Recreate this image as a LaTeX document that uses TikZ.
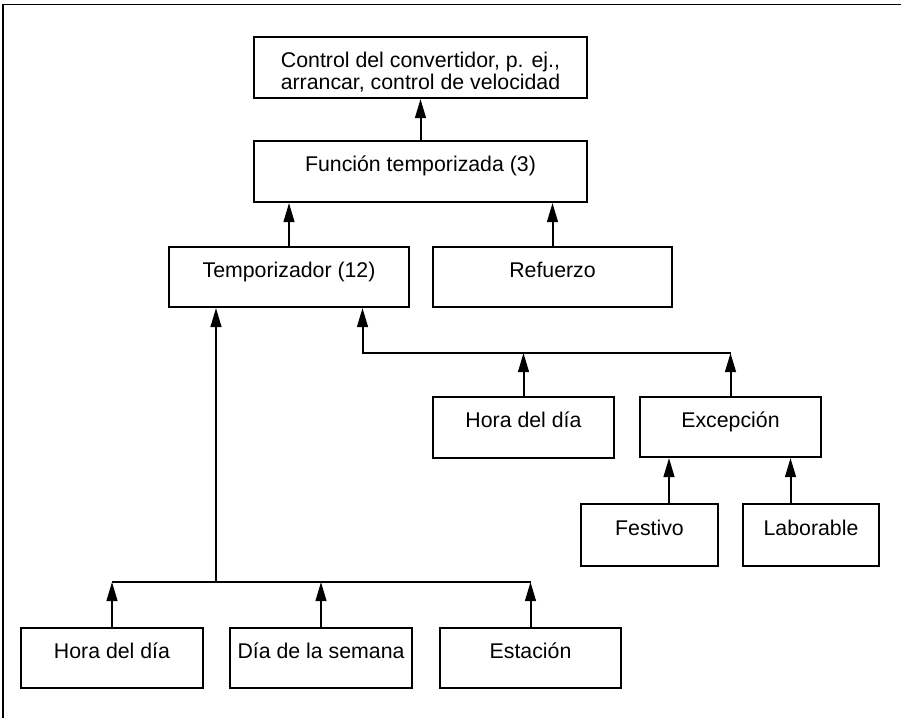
\documentclass[tikz,border=0pt]{standalone}
\usepackage{fontspec}
\setmainfont{Liberation Sans}
\usetikzlibrary{arrows.meta}
\tikzset{
  box/.style={draw, line width=2pt, inner sep=0pt, text height=0pt, text depth=0pt,
    font=\fontsize{21.3}{21}\selectfont},
  arr/.style={line width=2pt, -{Triangle[length=19pt,width=10.7pt]}},
  bus/.style={line width=2pt},
  frame/.style={line width=1.5pt}
}
\begin{document}
\begin{tikzpicture}[x=1pt,y=-1pt]
\useasboundingbox (0,0) rectangle (901,717);
\draw[frame] (3,730) -- (3,4.5) -- (910,4.5);
% boxes
\node[box, minimum width=333pt, minimum height=61pt] (top) at (420.5,67.5)
  {\begin{tabular}[t]{@{}c@{}}Control del convertidor, p. ej.,\\arrancar, control de velocidad\end{tabular}};
\node[box, minimum width=333pt, minimum height=61pt] (func) at (420.5,171.5) {Función temporizada (3)};
\node[box, minimum width=240pt, minimum height=60pt] (temp) at (289,277) {Temporizador (12)};
\node[box, minimum width=239pt, minimum height=60pt] (ref) at (552.5,277) {Refuerzo};
\node[box, minimum width=181pt, minimum height=61pt] (hora2) at (523.5,427.5) {Hora del día};
\node[box, minimum width=181pt, minimum height=60pt] (exc) at (730.5,427) {Excepción};
\node[box, minimum width=137pt, minimum height=62pt] (fest) at (649.5,535) {Festivo};
\node[box, minimum width=136pt, minimum height=62pt] (lab) at (811,535) {Laborable};
\node[box, minimum width=182pt, minimum height=60pt] (hora1) at (112,658) {Hora del día};
\node[box, minimum width=182pt, minimum height=60pt] (dia) at (321,658) {Día de la semana};
\node[box, minimum width=181pt, minimum height=60pt] (est) at (530.5,658) {Estación};
% connectors
\draw[arr] (func.north) -- (top.south);
\draw[arr] (temp.north) -- (temp.north |- func.south);
\draw[arr] (ref.north) -- (ref.north |- func.south);
% right bus
\coordinate (rb) at (362.5,353);
\draw[arr] (rb) -- (rb |- temp.south);
\draw[bus] ([xshift=-1pt]rb) -- (rb -| exc.north);
\draw[arr] (hora2.north) -- (hora2.north |- rb);
\draw[arr] (exc.north) -- (exc.north |- rb);
\draw[arr] ([xshift=19.5pt]fest.north) -- ([xshift=19.5pt]fest.north |- exc.south);
\draw[arr] ([xshift=-20.5pt]lab.north) -- ([xshift=-20.5pt]lab.north |- exc.south);
% left bus
\coordinate (lb) at (216,582);
\draw[bus] (hora1.north |- lb) -- (est.north |- lb);
\draw[arr] (lb) -- (lb |- temp.south);
\draw[arr] (hora1.north) -- (hora1.north |- lb);
\draw[arr] (dia.north) -- (dia.north |- lb);
\draw[arr] (est.north) -- (est.north |- lb);
\end{tikzpicture}
\end{document}
